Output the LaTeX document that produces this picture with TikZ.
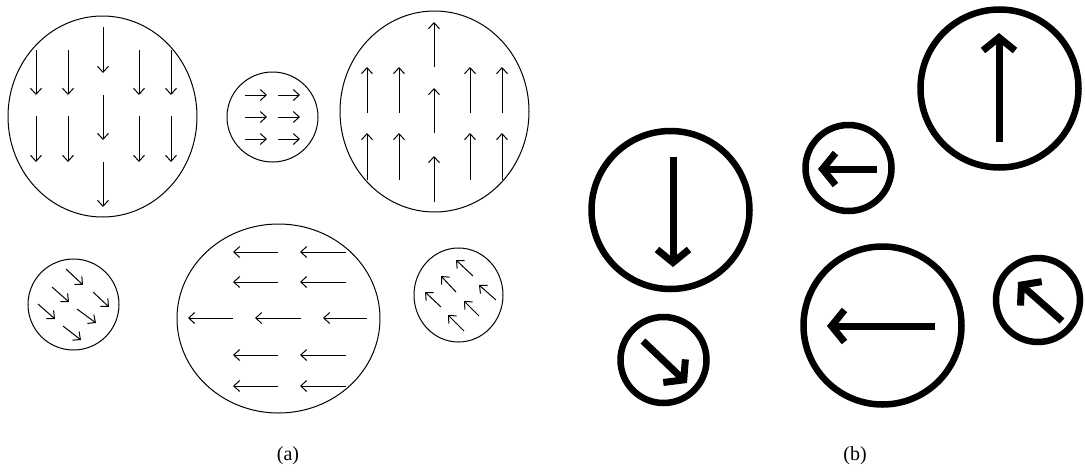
\documentclass[tikz,border=0pt]{standalone}
\usepackage{fontspec}
\setmainfont{Liberation Serif}
\usetikzlibrary{arrows.meta}
\tikzset{
  thinring/.style={draw=black, line width=1pt},
  thinarr/.style={draw=black, line width=1pt, -{Straight Barb[length=6pt,width=11pt]}},
  thickring/.style={draw=black, line width=6.5pt},
  thickarr/.style={draw=black, line width=7pt, -{Straight Barb[length=13pt,width=32pt,sharp]}},
  caption/.style={font=\fontsize{20}{22}\selectfont, inner sep=0pt}
}
\begin{document}
\begin{tikzpicture}[x=1pt,y=-1pt]
\useasboundingbox (0,0) rectangle (1085,472);
% ---------- (a) ----------
% circle 1: down
\draw[thinring] (102.5,116.5) ellipse [x radius=94.5pt, y radius=100.5pt];
\foreach \x in {36,68,139,171}{
  \draw[thinarr] (\x,50) -- (\x,95);
  \draw[thinarr] (\x,116) -- (\x,162);
}
\draw[thinarr] (103,27) -- (103,73);
\draw[thinarr] (103,95) -- (103,140);
\draw[thinarr] (103,162) -- (103,207);
% circle 2: right
\draw[thinring] (272.5,117) ellipse [x radius=45.5pt, y radius=45pt];
\foreach \y in {95,117,139}{
  \draw[thinarr] (245,\y) -- (267,\y);
  \draw[thinarr] (278,\y) -- (300,\y);
}
% circle 3: up
\draw[thinring] (434.5,111.5) ellipse [x radius=94.5pt, y radius=100.5pt];
\foreach \x in {367,399,470,502}{
  \draw[thinarr] (\x,113) -- (\x,67);
  \draw[thinarr] (\x,180) -- (\x,133);
}
\draw[thinarr] (434,67) -- (434,22);
\draw[thinarr] (434,133) -- (434,88);
\draw[thinarr] (434,202) -- (434,156);
% circle 4: down-right
\draw[thinring] (73.5,304.5) ellipse [x radius=45.5pt, y radius=45.5pt];
\draw[thinarr] (66,269) -- (83,285);
\draw[thinarr] (52,287) -- (69,302);
\draw[thinarr] (93,292) -- (109,307);
\draw[thinarr] (38,304) -- (55,319);
\draw[thinarr] (77,309) -- (96,323);
\draw[thinarr] (63,326) -- (81,340);
% circle 5: left
\draw[thinring] (278.5,318.5) ellipse [x radius=101.5pt, y radius=94.5pt];
\foreach \y in {252,282,355,386}{
  \draw[thinarr] (278,\y) -- (233,\y);
  \draw[thinarr] (346,\y) -- (300,\y);
}
\draw[thinarr] (233,318) -- (188,318);
\draw[thinarr] (301,318) -- (255,318);
\draw[thinarr] (367,318) -- (323,318);
% circle 6: up-left
\draw[thinring] (458.5,295) ellipse [x radius=44.5pt, y radius=47pt];
\draw[thinarr] (473,276) -- (456,260);
\draw[thinarr] (456,292) -- (441,276);
\draw[thinarr] (496,300) -- (479,285);
\draw[thinarr] (441,307) -- (425,292);
\draw[thinarr] (479,316) -- (464,301);
\draw[thinarr] (464,331) -- (448,315);
% ---------- (b) ----------
\draw[thickring] (670.5,210) circle [radius=79pt];
\draw[thickarr] (673,157) -- (673,267);
\draw[thickring] (663.5,360) circle [radius=43pt];
\draw[thickarr] (643,341) -- (687,383);
\draw[thickring] (848.5,168) circle [radius=43pt];
\draw[thickarr] (877,169) -- (818,169);
\draw[thickring] (999.5,88.5) circle [radius=79pt];
\draw[thickarr] (999,142) -- (999,33);
\draw[thickring] (882.5,325.5) circle [radius=79pt];
\draw[thickarr] (935,326) -- (827,326);
\draw[thickring] (1038,300) circle [radius=42pt];
\draw[thickarr] (1062,321) -- (1018,282);
% captions
\node[caption] (capa) at (288,456) {(a)};
\node[caption] (capb) at (855,456) {(b)};
\end{tikzpicture}
\end{document}
